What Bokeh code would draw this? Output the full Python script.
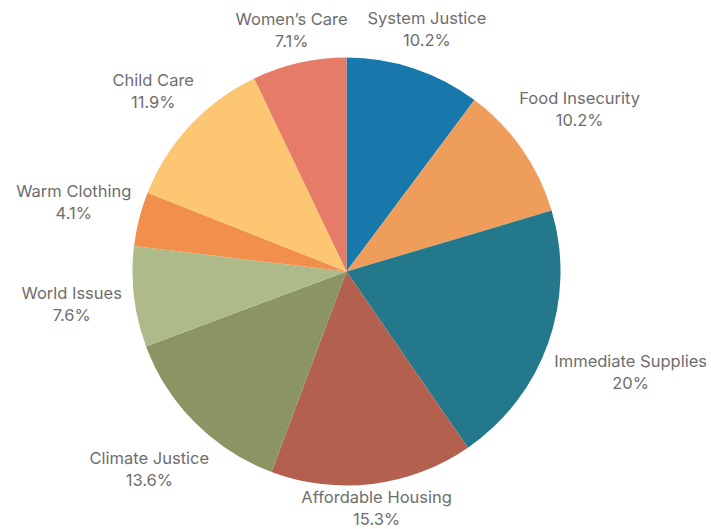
import math
from bokeh.plotting import figure
from bokeh.models import ColumnDataSource
from bokeh.embed import file_html
from bokeh.resources import INLINE
from bokeh.core.properties import value

# ---- data ----
categories = ["System Justice", "Food Insecurity", "Immediate Supplies",
              "Affordable Housing", "Climate Justice", "World Issues",
              "Warm Clothing", "Child Care", "Women\u2019s Care"]
shares = [10.2, 10.2, 20.0, 15.3, 13.6, 7.6, 4.1, 11.9, 7.1]
pct_labels = ["10.2%", "10.2%", "20%", "15.3%", "13.6%", "7.6%", "4.1%", "11.9%", "7.1%"]
colors = ["#1878ab", "#ee9d5b", "#24788b", "#b3604e", "#8a9563",
          "#afba8a", "#f28f4d", "#fdc672", "#e67c67"]

# ---- layout ----
W, H = 711, 529
CX, CY = 346, 529 - 271
R = 214
FONT = "Inter"
FS = 16.5
CHAR_W = 8.6
HALF_H = 13
GAP = 10
LINE = 11
BOTTOM_MIN = 10.5

total = sum(shares)
starts, ends, lx, ly1, ly2 = [], [], [], [], []
cum = 0.0
for cat, s in zip(categories, shares):
    a0 = math.pi / 2 - 2 * math.pi * cum / total
    cum += s
    a1 = math.pi / 2 - 2 * math.pi * cum / total
    starts.append(a0)
    ends.append(a1)
    mid = (a0 + a1) / 2
    c, sn = math.cos(mid), math.sin(mid)
    w = CHAR_W * len(cat)
    d = GAP + abs(c) * w / 2 + abs(sn) * HALF_H
    r = R + d
    x = CX + r * c
    y = CY + r * sn
    y = max(y, BOTTOM_MIN + LINE)
    lx.append(x)
    ly1.append(y + LINE)
    ly2.append(y - LINE)

src = ColumnDataSource(dict(start=starts, end=ends, color=colors,
                            cat=categories, pct=pct_labels,
                            lx=lx, ly1=ly1, ly2=ly2))

p = figure(width=W, height=H, x_range=(0, W), y_range=(0, H),
           output_backend="svg", toolbar_location=None,
           min_border=0, outline_line_color=None)
p.axis.visible = False
p.grid.visible = False
p.background_fill_color = "white"
p.border_fill_color = "white"

p.wedge(x=CX, y=CY, radius=R, start_angle="start", end_angle="end",
        direction="clock", fill_color="color", line_color=None, source=src)

common = dict(text_align="center", text_baseline="middle",
              text_font=value(FONT), text_font_size=f"{FS}px",
              text_color="#6e6e6e", source=src)
p.text(x="lx", y="ly1", text="cat", **common)
p.text(x="lx", y="ly2", text="pct", **common)

open("out.html", "w").write(file_html(p, INLINE))
